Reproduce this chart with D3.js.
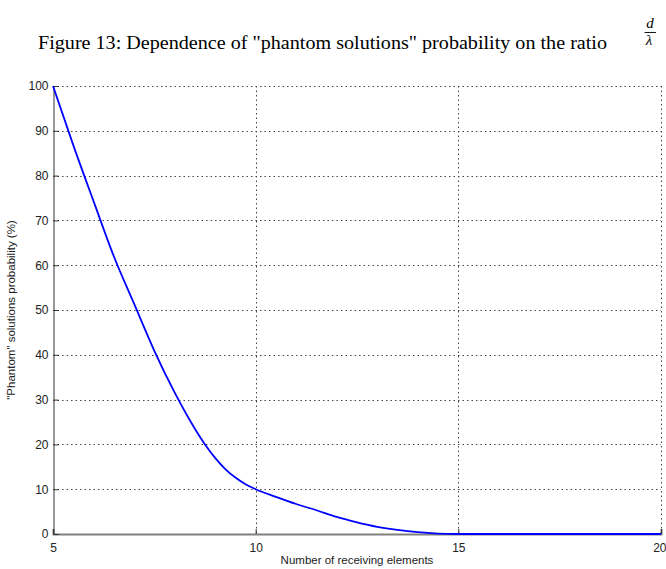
<!DOCTYPE html>
<html>
<head>
<meta charset="utf-8">
<script src="https://cdn.jsdelivr.net/npm/d3@7/dist/d3.min.js"></script>
<style>
  html, body { margin: 0; padding: 0; background: #fff; }
  svg { display: block; }
</style>
</head>
<body>
<script>
// Number of receiving elements
const elements = [5, 5.5, 6, 6.5, 7, 7.5, 8, 8.5, 8.75, 9, 9.25, 9.5, 9.75, 10, 10.5, 11,
                  11.5, 12, 12.5, 13, 13.5, 14, 14.5, 15, 16, 17, 18, 19, 20];
// "Phantom" solutions probability (%)
const probability = [100, 86.8, 74.3, 62, 51.4, 40.9, 31.6, 23.5, 20, 17, 14.5, 12.6, 11.1,
                     10, 8.3, 6.7, 5.3, 3.8, 2.6, 1.6, 0.9, 0.4, 0.1, 0, 0, 0, 0, 0, 0];
const xTicks = [5, 10, 15, 20];
const yTicks = [0, 10, 20, 30, 40, 50, 60, 70, 80, 90, 100];

const W = 666, H = 569;
const m = { left: 53, right: 5, top: 86, bottom: 35 };

const svg = d3.select("body").append("svg").attr("width", W).attr("height", H);

const x = d3.scaleLinear().domain([5, 20]).range([m.left, W - m.right]);
const y = d3.scaleLinear().domain([0, 100]).range([H - m.bottom, m.top]);

const sans = "'Liberation Sans', Arial, sans-serif";
const serif = "'Liberation Serif', 'Times New Roman', serif";

// Title with the d/λ fraction
svg.append("text")
  .attr("x", 38).attr("y", 49)
  .attr("font-family", serif)
  .attr("font-size", 19.5)
  .attr("fill", "#000")
  .attr("textLength", 569)
  .attr("lengthAdjust", "spacingAndGlyphs")
  .text('Figure 13: Dependence of "phantom solutions" probability on the ratio');

const frac = svg.append("g")
  .attr("font-family", serif)
  .attr("font-style", "italic")
  .attr("font-size", 15)
  .attr("text-anchor", "middle");
frac.append("text").attr("x", 650).attr("y", 28).text("d");
frac.append("line").attr("x1", 644.5).attr("x2", 656).attr("y1", 32.5).attr("y2", 32.5)
  .attr("stroke", "#000").attr("stroke-width", 0.9);
frac.append("text").attr("x", 649).attr("y", 45).text("λ");

// Dotted grid
const grid = svg.append("g")
  .attr("stroke", "#444").attr("stroke-width", 1).attr("stroke-dasharray", "1.5,3");
grid.selectAll(".gy").data(yTicks.filter(d => d > 0)).join("line")
  .attr("x1", m.left).attr("x2", W - m.right)
  .attr("y1", d => Math.round(y(d)) + 0.5).attr("y2", d => Math.round(y(d)) + 0.5);
grid.selectAll(".gx").data(xTicks.filter(d => d > 5)).join("line")
  .attr("y1", m.top).attr("y2", H - m.bottom)
  .attr("x1", d => Math.round(x(d)) + 0.5).attr("x2", d => Math.round(x(d)) + 0.5);

// Axes
const xAxis = d3.axisBottom(x).tickValues(xTicks).tickSize(-5).tickPadding(9).tickFormat(d3.format("d"));
const yAxis = d3.axisLeft(y).tickValues(yTicks).tickSize(-5).tickPadding(5).tickFormat(d3.format("d"));

const gx = svg.append("g").attr("transform", `translate(0,${H - m.bottom})`).call(xAxis);
gx.select(".domain").attr("stroke", "#808080").attr("stroke-width", 2);
gx.selectAll(".tick line").attr("stroke", "#333");
gx.selectAll(".tick text").attr("font-family", sans).attr("font-size", 12).attr("fill", "#222");
// keep the last label inside the page
gx.selectAll(".tick text").filter(d => d === 20).attr("text-anchor", "end").attr("x", 5);

const gy = svg.append("g").attr("transform", `translate(${m.left + 0.5},0)`).call(yAxis);
gy.select(".domain").attr("stroke", "#333").attr("stroke-width", 1);
gy.selectAll(".tick line").attr("stroke", "#333");
gy.selectAll(".tick text").attr("font-family", sans).attr("font-size", 12).attr("fill", "#222");

// Curve
const line = d3.line().x((d, i) => x(elements[i])).y(d => y(d)).curve(d3.curveMonotoneX);
svg.append("path")
  .datum(probability)
  .attr("fill", "none")
  .attr("stroke", "#0000ff")
  .attr("stroke-width", 1.8)
  .attr("d", line);

// Axis labels
svg.append("text")
  .attr("x", (m.left + W - m.right) / 2).attr("y", 564)
  .attr("text-anchor", "middle")
  .attr("font-family", sans).attr("font-size", 11.5).attr("fill", "#222")
  .text("Number of receiving elements");

svg.append("text")
  .attr("transform", `translate(15,${(m.top + H - m.bottom) / 2}) rotate(-90)`)
  .attr("text-anchor", "middle")
  .attr("font-family", sans).attr("font-size", 11.5).attr("fill", "#222")
  .text('"Phantom" solutions probability (%)');
</script>
</body>
</html>
